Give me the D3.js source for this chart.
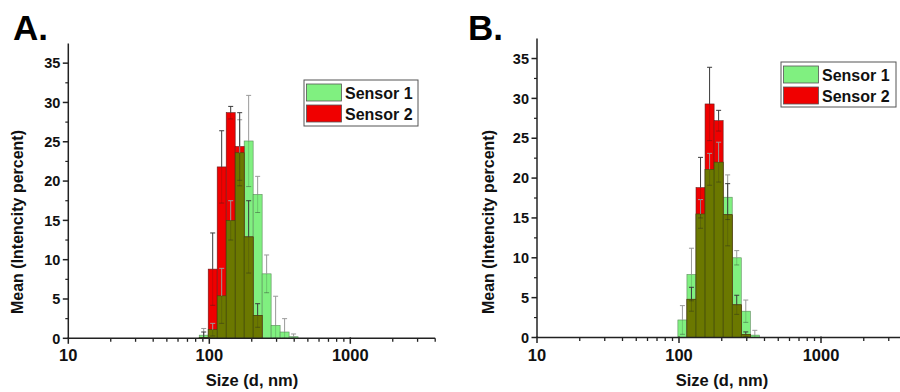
<!DOCTYPE html>
<html>
<head>
<meta charset="utf-8">
<script src="https://cdn.jsdelivr.net/npm/d3@7"></script>
<style>
  body { margin: 0; background: #fff; }
  svg { font-family: "Liberation Sans", Arial, sans-serif; font-weight: bold; }
</style>
</head>
<body>
<div id="chart"></div>
<script>
// DLS size bins (d, nm)
const sizes = [91.28, 105.7, 122.4, 141.8, 164.2, 190.1, 220.2, 255.0, 295.3, 342.0, 396.1];

// Panel A
const aSensor1    = [0.4, 1.1, 5.4, 15.0, 23.6, 25.1, 18.3, 8.2, 1.65, 0.8, 0.2];
const aSensor1Err = [0.85, 0.8, 3.5, 2.5, 4.2, 5.8, 2.3, 2.4, 3.7, 1.7, 0.35];
const aSensor2    = [0.1, 8.8, 21.8, 28.7, 24.4, 12.9, 2.9, 0, 0, 0, 0];
const aSensor2Err = [0.7, 4.6, 4.6, 0.8, 4.3, 4.6, 1.5, 0, 0, 0, 0];

// Panel B
const bSensor1    = [0, 2.2, 7.9, 15.5, 21.1, 22.0, 17.6, 10.0, 3.3, 0.3, 0];
const bSensor1Err = [0, 1.8, 3.3, 1.8, 2.0, 2.5, 2.8, 0.9, 1.4, 0.6, 0];
const bSensor2    = [0, 0, 4.8, 18.8, 29.3, 27.2, 15.4, 4.1, 0.4, 0, 0];
const bSensor2Err = [0, 0, 1.5, 3.8, 4.6, 1.3, 3.9, 1.2, 0.3, 0, 0];

const seriesNames = ["Sensor 1", "Sensor 2"];
const yTicks = [0, 5, 10, 15, 20, 25, 30, 35];
const xTicks = [10, 100, 1000];

const colors = { s1: "#80f080", s2: "#f00000", both: "#6b7800" };

const svg = d3.select("#chart").append("svg")
  .attr("width", 900)
  .attr("height", 392);

// panel layouts
const panels = [
  { label: "A.", s1: aSensor1, e1: aSensor1Err, s2: aSensor2, e2: aSensor2Err,
    x0: 68.3, x1: 435.2, y0: 338.3, y1: 43.5, labelX: 13, titleX: 23, xTitleX: 252,
    legend: {x: 304, y: 80, w: 114, h: 46} },
  { label: "B.", s1: bSensor1, e1: bSensor1Err, s2: bSensor2, e2: bSensor2Err,
    x0: 537, x1: 906.5, y0: 337.5, y1: 38.6, labelX: 468, titleX: 494, xTitleX: 722,
    legend: {x: 781, y: 62, w: 115, h: 45} }
];

panels.forEach(p => drawPanel(p));

function drawPanel(p) {
  const x = d3.scaleLog().domain([10, 4000]).range([p.x0, p.x1]);
  const y = d3.scaleLinear().domain([0, 37.5]).range([p.y0, p.y1]);
  const g = svg.append("g");

  // bin width from neighbouring bin ratio
  const ratio = sizes[1] / sizes[0];
  const left = s => x(s / Math.sqrt(ratio));
  const right = s => x(s * Math.sqrt(ratio));

  const rows = sizes.map((s, i) => ({
    s, v1: p.s1[i], e1: p.e1[i], v2: p.s2[i], e2: p.e2[i]
  }));

  // Sensor 1 bars
  g.selectAll("rect.s1").data(rows.filter(d => d.v1 > 0)).enter().append("rect")
    .attr("x", d => left(d.s)).attr("width", d => right(d.s) - left(d.s))
    .attr("y", d => y(d.v1)).attr("height", d => y(0) - y(d.v1))
    .attr("fill", colors.s1).attr("stroke", "#5a8a5a").attr("stroke-width", 0.6);

  // Sensor 2 bars
  g.selectAll("rect.s2").data(rows.filter(d => d.v2 > 0)).enter().append("rect")
    .attr("x", d => left(d.s)).attr("width", d => right(d.s) - left(d.s))
    .attr("y", d => y(d.v2)).attr("height", d => y(0) - y(d.v2))
    .attr("fill", colors.s2).attr("stroke", "#6a1a1a").attr("stroke-width", 0.6);

  // overlap of the two series
  g.selectAll("rect.both").data(rows.filter(d => Math.min(d.v1, d.v2) > 0)).enter().append("rect")
    .attr("x", d => left(d.s)).attr("width", d => right(d.s) - left(d.s))
    .attr("y", d => y(Math.min(d.v1, d.v2))).attr("height", d => y(0) - y(Math.min(d.v1, d.v2)))
    .attr("fill", colors.both).attr("stroke", "#3d4a10").attr("stroke-width", 0.6);

  // error bars
  const errs = [];
  rows.forEach(d => {
    if (d.e1 > 0) errs.push({ s: d.s, v: d.v1, e: d.e1, c: "#9a9a9a" });
    if (d.e2 > 0) errs.push({ s: d.s, v: d.v2, e: d.e2, c: "#3a3a3a" });
  });
  const eg = g.selectAll("g.err").data(errs).enter().append("g");
  eg.append("line")
    .attr("x1", d => x(d.s)).attr("x2", d => x(d.s))
    .attr("y1", d => y(d.v)).attr("y2", d => y(d.v + d.e))
    .attr("stroke", d => d.c).attr("stroke-width", 1);
  eg.append("line")
    .attr("x1", d => x(d.s) - 2.5).attr("x2", d => x(d.s) + 2.5)
    .attr("y1", d => y(d.v + d.e)).attr("y2", d => y(d.v + d.e))
    .attr("stroke", d => d.c).attr("stroke-width", 1);
  // lower half shows faintly through the bars
  eg.append("line")
    .attr("x1", d => x(d.s)).attr("x2", d => x(d.s))
    .attr("y1", d => y(d.v)).attr("y2", d => y(Math.max(0, d.v - d.e)))
    .attr("stroke", "#222").attr("stroke-opacity", 0.2).attr("stroke-width", 1);
  eg.append("line")
    .attr("x1", d => x(d.s) - 2.5).attr("x2", d => x(d.s) + 2.5)
    .attr("y1", d => y(Math.max(0, d.v - d.e))).attr("y2", d => y(Math.max(0, d.v - d.e)))
    .attr("stroke", "#222").attr("stroke-opacity", 0.4).attr("stroke-width", 1);

  // x axis
  const xAxis = g.append("g").attr("transform", `translate(0,${p.y0})`);
  xAxis.append("line").attr("x1", p.x0).attr("x2", p.x1).attr("stroke", "#222").attr("stroke-width", 1.5);
  const minor = x.ticks().filter(t => xTicks.indexOf(t) < 0 && t > 10 && t <= 4000);
  xAxis.selectAll("line.minor").data(minor).enter().append("line")
    .attr("x1", d => x(d)).attr("x2", d => x(d)).attr("y1", 0).attr("y2", 3.5)
    .attr("stroke", "#222").attr("stroke-width", 1.3);
  xAxis.selectAll("line.major").data(xTicks).enter().append("line")
    .attr("x1", d => x(d)).attr("x2", d => x(d)).attr("y1", -1).attr("y2", 5.5)
    .attr("stroke", "#222").attr("stroke-width", 1.5);
  xAxis.selectAll("text").data(xTicks).enter().append("text")
    .attr("x", d => x(d)).attr("y", 23).attr("text-anchor", "middle")
    .attr("font-size", 16.5).attr("fill", "#111").text(d => d);

  // y axis
  const yAxis = g.append("g").attr("transform", `translate(${p.x0},0)`);
  yAxis.append("line").attr("y1", p.y0).attr("y2", p.y1).attr("stroke", "#222").attr("stroke-width", 1.5);
  const yMinor = d3.range(2.5, 37.5, 5);
  yAxis.selectAll("line.minor").data(yMinor).enter().append("line")
    .attr("x1", -3).attr("x2", 0).attr("y1", d => y(d)).attr("y2", d => y(d))
    .attr("stroke", "#222").attr("stroke-width", 1.2);
  yAxis.selectAll("line.major").data(yTicks).enter().append("line")
    .attr("x1", -5.5).attr("x2", 0).attr("y1", d => y(d)).attr("y2", d => y(d))
    .attr("stroke", "#222").attr("stroke-width", 1.5);
  yAxis.selectAll("text").data(yTicks).enter().append("text")
    .attr("x", -8).attr("y", d => y(d)).attr("dy", "0.36em").attr("text-anchor", "end")
    .attr("font-size", 14.5).attr("fill", "#111").text(d => d);

  // titles
  g.append("text")
    .attr("x", p.xTitleX).attr("y", 386)
    .attr("text-anchor", "middle").attr("font-size", 16.5).attr("fill", "#111")
    .text("Size (d, nm)");
  g.append("text")
    .attr("transform", `translate(${p.titleX},222) rotate(-90)`)
    .attr("text-anchor", "middle").attr("font-size", 16).attr("fill", "#111")
    .text("Mean (Intencity percent)");
  g.append("text")
    .attr("x", p.labelX).attr("y", 40)
    .attr("font-size", 35).attr("fill", "#000")
    .text(p.label);

  // legend
  const L = p.legend;
  const lg = g.append("g").attr("transform", `translate(${L.x},${L.y})`);
  lg.append("rect").attr("width", L.w).attr("height", L.h)
    .attr("fill", "#fff").attr("stroke", "#555").attr("stroke-width", 1);
  [colors.s1, colors.s2].forEach((c, i) => {
    lg.append("rect").attr("x", 2.5).attr("y", 4 + i * 21).attr("width", 35).attr("height", 17)
      .attr("fill", c).attr("stroke", "#555").attr("stroke-width", 0.8);
    lg.append("text").attr("x", 41).attr("y", 18.5 + i * 21)
      .attr("font-size", 16).attr("fill", "#111").text(seriesNames[i]);
  });
}
</script>
</body>
</html>
